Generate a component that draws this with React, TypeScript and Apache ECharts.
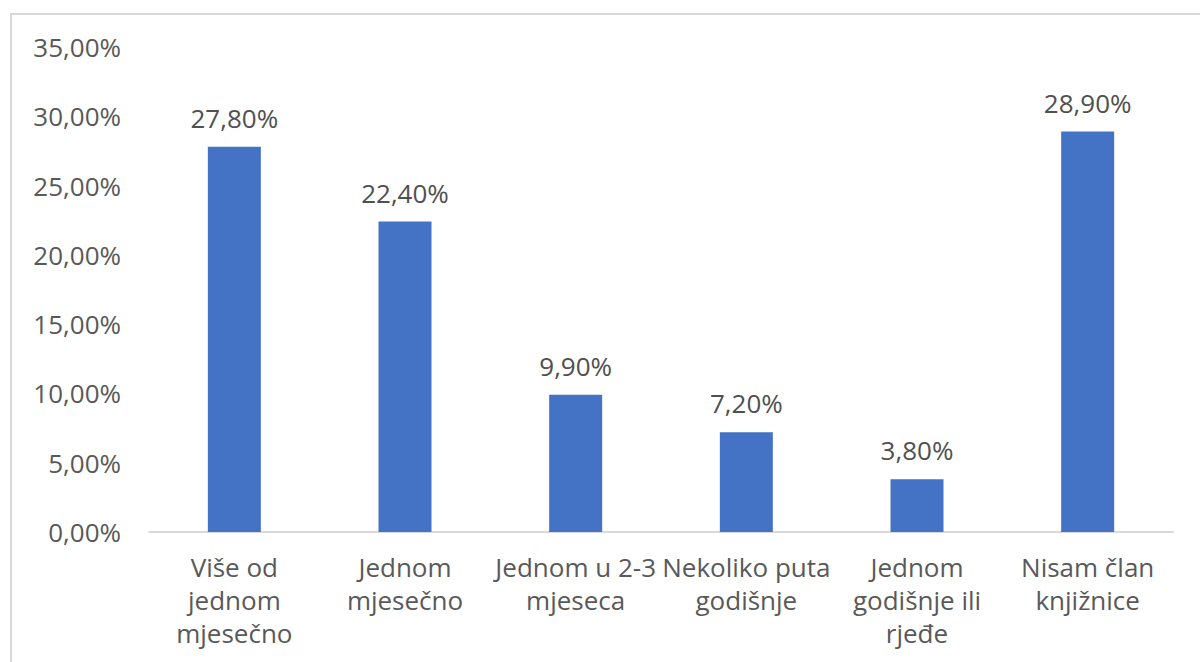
import React, { useEffect, useRef } from "react";
import * as echarts from "echarts";

const categories = [
  "Više od\njednom\nmjesečno",
  "Jednom\nmjesečno",
  "Jednom u 2-3\nmjeseca",
  "Nekoliko puta\ngodišnje",
  "Jednom\ngodišnje ili\nrjeđe",
  "Nisam član\nknjižnice",
];
const values = [27.8, 22.4, 9.9, 7.2, 3.8, 28.9];
const yMin = 0;
const yMax = 35;
const yStep = 5;

const fmt = (v: number) => v.toFixed(2).replace(".", ",") + "%";

export default function App() {
  const ref = useRef<HTMLDivElement>(null);
  useEffect(() => {
    if (!ref.current) return;
    const chart = echarts.init(ref.current, null, { renderer: "svg" });
    const font = "'Open Sans', 'Noto Sans', sans-serif";
    chart.setOption({
      animation: false,
      backgroundColor: "#ffffff",
      textStyle: { fontFamily: font },
      graphic: [
        {
          type: "rect",
          shape: { x: 11, y: 14, width: 1300, height: 800 },
          style: { fill: "none", stroke: "#d9d9d9", lineWidth: 2 },
          silent: true,
        },
      ],
      grid: { left: 149, right: 27, top: 47, bottom: 130 },
      xAxis: {
        type: "category",
        data: categories,
        axisLine: { show: true, lineStyle: { color: "#d9d9d9", width: 2 } },
        axisTick: { show: false },
        axisLabel: {
          interval: 0,
          hideOverlap: false,
          color: "#595959",
          fontSize: 26,
          lineHeight: 33,
          margin: 18,
          fontFamily: font,
        },
      },
      yAxis: {
        type: "value",
        min: yMin,
        max: yMax,
        interval: yStep,
        axisLine: { show: false },
        axisTick: { show: false },
        splitLine: { show: false },
        axisLabel: {
          formatter: (v: number) => fmt(v),
          color: "#595959",
          fontSize: 26,
          margin: 28,
          fontFamily: font,
        },
      },
      series: [
        {
          type: "bar",
          data: values,
          barWidth: 53,
          itemStyle: { color: "#4472C4" },
          label: {
            show: true,
            position: "top",
            distance: 16,
            formatter: (p: any) => fmt(p.value),
            color: "#505050",
            fontSize: 26,
            fontFamily: font,
          },
        },
      ],
    });
    return () => chart.dispose();
  }, []);
  return (
    <div
      ref={ref}
      style={{ position: "fixed", left: 0, top: 0, width: 1200, height: 662 }}
    />
  );
}
